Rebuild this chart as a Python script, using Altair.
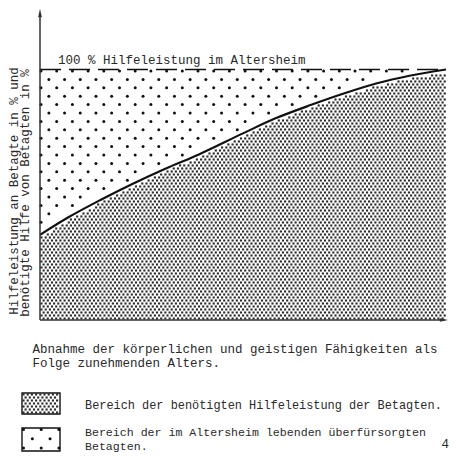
import numpy as np
import pandas as pd
import altair as alt

# ---- data (percent of full help) ----
curve_x = [0, 7, 15, 23, 31, 39, 50, 58, 67, 75, 83, 91, 100]
curve_y = [34, 41, 48, 54.5, 60.5, 66, 74.5, 80.5, 86, 90.5, 94.5, 97.5, 100]
full_level = 100

title_top = "100 % Hilfeleistung im Altersheim"
y_title = ["Hilfeleistung an Betagte in % und", "benötigte Hilfe von Betagten in %"]
x_title = ["Abnahme der körperlichen und geistigen Fähigkeiten als",
           "Folge zunehmenden Alters."]
legend_dense = "Bereich der benötigten Hilfeleistung der Betagten."
legend_sparse = ["Bereich der im Altersheim lebenden überfürsorgten", "Betagten."]
page_no = "4"

# ---- layout (chart pixels) ----
W, H = 441, 446
X0, X1 = 32, 438
Y0, Y1 = 312, 61.5
sx = (X1 - X0) / 100
sy = (Y0 - Y1) / 100
FONT = "Liberation Mono, DejaVu Sans Mono, monospace"
FS = 12.5
INK = "#2a2a2a"

xs = alt.Scale(domain=[0, 100], range=[X0, X1], nice=False, zero=False)
ys = alt.Scale(domain=[0, 100], range=[Y0, Y1], nice=False, zero=False)


def px2data(px, py):
    return (np.asarray(px) - X0) / sx, (Y0 - np.asarray(py)) / sy


def grid(xa, xb, ya, yb, dx, dy, stagger):
    pts = []
    r = 0
    py = ya
    while py <= yb + 1e-6:
        px = xa + (stagger if r % 2 else 0)
        while px <= xb + 1e-6:
            pts.append((px, py))
            px += dx
        r += 1
        py += dy
    arr = np.array(pts)
    return arr[:, 0], arr[:, 1]


# texture: dense dots under the curve
gx, gy = grid(X0 + 1.5, X1, Y1, Y0 - 1.5, 4.2, 3.0, 2.1)
dx_, dy_ = px2data(gx, gy)
lim = np.interp(dx_, curve_x, curve_y)
m = dy_ < lim - 1.2
dense = pd.DataFrame({"x": dx_[m], "y": dy_[m]})

# legend box 1 dense texture
bx, by = grid(14 + 1.5, 52 - 1, 385 + 1.5, 406 - 1, 4.2, 3.0, 2.1)
bdx, bdy = px2data(bx, by)
dense = pd.concat([dense, pd.DataFrame({"x": bdx, "y": bdy})], ignore_index=True)

# texture: sparse dots above the curve
sx_px, sy_px = grid(X0 + 1, X1 - 1, Y1 + 1.5, Y0, 15.7, 8.4, 7.85)
sdx, sdy = px2data(sx_px, sy_px)
lim2 = np.interp(sdx, curve_x, curve_y)
m2 = sdy > lim2 + 2.5
sparse = pd.DataFrame({"x": sdx[m2], "y": sdy[m2]})

# legend box 2 sparse texture
lx, ly = grid(15.5, 52, 421.5, 442, 17.7, 9.3, 8.85)
ldx, ldy = px2data(lx, ly)
sparse = pd.concat([sparse, pd.DataFrame({"x": ldx, "y": ldy})], ignore_index=True)

curve = pd.DataFrame({"x": curve_x, "y": curve_y})

one = pd.DataFrame({"a": [0]})

dense_layer = alt.Chart(dense).mark_square(size=4.5, color=INK, opacity=1).encode(
    x=alt.X("x:Q", scale=xs, axis=None), y=alt.Y("y:Q", scale=ys, axis=None))
sparse_layer = alt.Chart(sparse).mark_circle(size=9, color="#111111", opacity=1).encode(
    x=alt.X("x:Q", scale=xs, axis=None), y=alt.Y("y:Q", scale=ys, axis=None))
curve_layer = alt.Chart(curve).mark_line(color="#111111", strokeWidth=2.2,
                                         interpolate="monotone").encode(
    x=alt.X("x:Q", scale=xs, axis=None), y=alt.Y("y:Q", scale=ys, axis=None))

dash_layer = alt.Chart(pd.DataFrame({"y": [full_level], "x": [0], "x2": [100]})).mark_rule(
    color="#111111", strokeWidth=1.6, strokeDash=[21, 8]).encode(
    x=alt.X("x:Q", scale=xs, axis=None), x2="x2:Q",
    y=alt.Y("y:Q", scale=ys, axis=None))

yaxis = alt.Chart(one).mark_rule(color="#333333", strokeWidth=1.5).encode(
    x=alt.value(X0), y=alt.value(6), y2=alt.value(Y0))
xaxis = alt.Chart(one).mark_rule(color="#333333", strokeWidth=1.5).encode(
    x=alt.value(X0), x2=alt.value(437), y=alt.value(Y0))
yarrow = alt.Chart(one).mark_point(shape="M0,-1L0.45,1L-0.45,1Z", filled=True,
                                   color="#333333", size=70, opacity=1).encode(
    x=alt.value(X0), y=alt.value(5))
xarrow = alt.Chart(one).mark_point(shape="M1,0L-1,-0.4L-1,0.4Z", filled=True,
                                   color="#333333", size=70, opacity=1).encode(
    x=alt.value(436), y=alt.value(Y0))

box1 = alt.Chart(one).mark_rect(fill="white", stroke="#111111", strokeWidth=1.4).encode(
    x=alt.value(14), x2=alt.value(52), y=alt.value(385), y2=alt.value(406))
box2 = alt.Chart(one).mark_rect(fill="white", stroke="#111111", strokeWidth=1.4).encode(
    x=alt.value(14), x2=alt.value(52), y=alt.value(420), y2=alt.value(443))


def txt(s, x, y, angle=0, align="left", fs=FS):
    kw = dict(text=s, font=FONT, fontSize=fs, color=INK, align=align, baseline="middle")
    if angle:
        kw["angle"] = angle
    return alt.Chart(one).mark_text(**kw).encode(x=alt.value(x), y=alt.value(y))


texts = [
    txt(title_top, 50, 52),
    txt(y_title[0], 5.5, 183, angle=270, align="center"),
    txt(y_title[1], 16.5, 185, angle=270, align="center"),
    txt(x_title[0], 24.5, 341),
    txt(x_title[1], 24.5, 355),
    txt(legend_dense, 77, 397, fs=11.9),
    txt(legend_sparse[0], 77, 424.5, fs=11.6),
    txt(legend_sparse[1], 77, 438.5, fs=11.6),
    txt(page_no, 441, 436, align="right"),
]

chart = alt.layer(
    box1, box2, dense_layer, sparse_layer, dash_layer, curve_layer,
    yaxis, xaxis, yarrow, xarrow, *texts
).properties(
    width=W, height=H,
    autosize=alt.AutoSizeParams(type="none"),
    padding=0,
).configure_view(stroke=None)

chart.save("out.html", embed_options={"renderer": "svg", "actions": False})
